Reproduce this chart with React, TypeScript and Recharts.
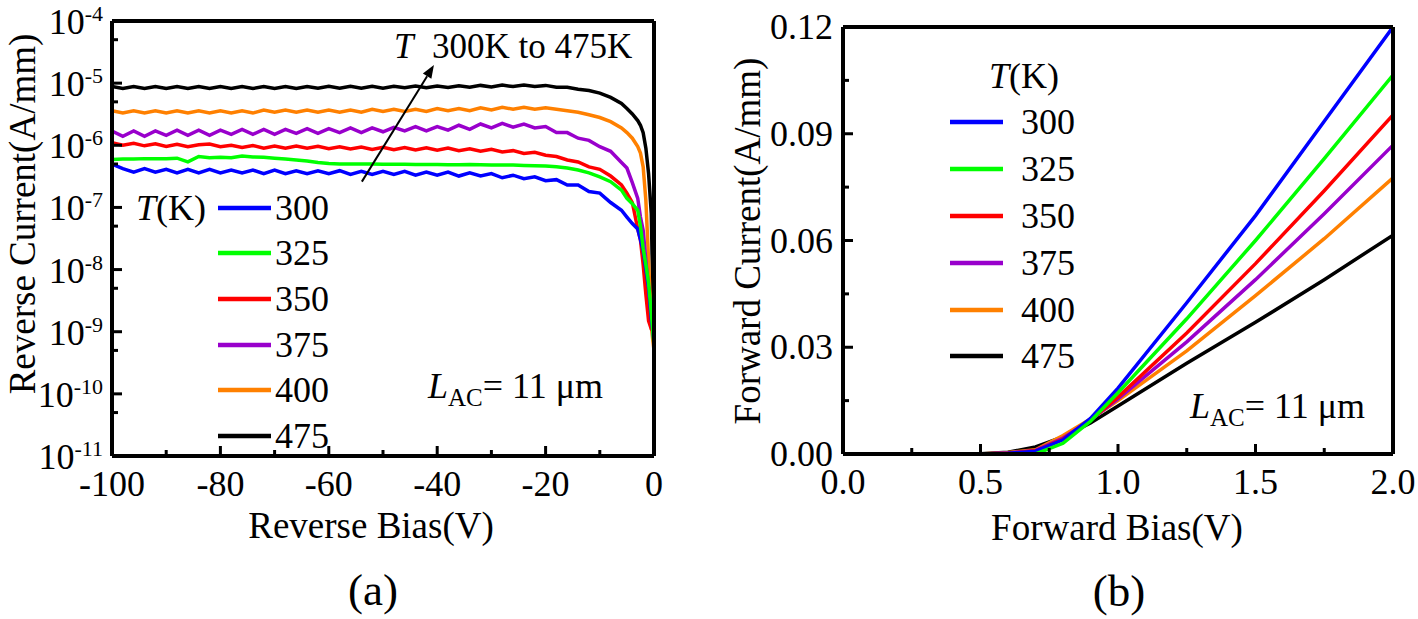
import React from 'react';
import { LineChart, Line, XAxis, YAxis, ReferenceLine, Legend } from 'recharts';

const FONT = '"Liberation Serif", "Times New Roman", serif';

// temperatures (K) and their colours
const temps = ['300', '325', '350', '375', '400', '475'];
const colors: Record<string, string> = {
  '300': '#0000ff',
  '325': '#00ff00',
  '350': '#ff0000',
  '375': '#9900cc',
  '400': '#ff8000',
  '475': '#000000',
};
// drawing order (last one on top)
const drawOrder = ['475', '400', '375', '350', '300', '325'];

// ---- (a) reverse characteristics ----
const reverseBias = [
  -100, -98, -96, -94, -92, -90, -88, -86, -84, -82,
  -80, -78, -76, -74, -72, -70, -68, -66, -64, -62,
  -60, -58, -56, -54, -52, -50, -48, -46, -44, -42,
  -40, -38, -36, -34, -32, -30, -28, -26, -24, -22,
  -20,
  -18, -16, -14, -12, -10, -8, -6,
  -5, -4, -3, -2.5, -2, -1.5, -1, -0.5, 0,
];

const rev300 = [
  5.0e-7, 4.2e-7, 3.7e-7, 4.2e-7, 3.7e-7, 4.1e-7, 3.6e-7, 4.1e-7, 3.6e-7, 4.1e-7,
  3.6e-7, 4.0e-7, 3.6e-7, 4.0e-7, 3.5e-7, 4.0e-7, 3.5e-7, 3.9e-7, 3.5e-7, 3.9e-7,
  3.5e-7, 3.9e-7, 3.4e-7, 3.8e-7, 3.4e-7, 3.8e-7, 3.4e-7, 3.8e-7, 3.3e-7, 3.7e-7,
  3.3e-7, 3.7e-7, 3.2e-7, 3.6e-7, 3.2e-7, 3.5e-7, 3.0e-7, 3.3e-7, 2.9e-7, 3.1e-7,
  2.7e-7,
  2.8e-7, 2.3e-7, 2.3e-7, 1.8e-7, 1.7e-7, 1.2e-7, 9e-8,
  7e-8, 5.5e-8, 4.5e-8, 3e-8, 2e-8, 1e-8, 5e-9, 1.6e-9, 7e-10,
];
const rev325 = [
  5.9e-7, 6.0e-7, 6.0e-7, 6.1e-7, 6.1e-7, 6.1e-7, 6.2e-7, 5.4e-7, 6.6e-7, 6.3e-7,
  6.4e-7, 6.3e-7, 6.7e-7, 6.5e-7, 6.4e-7, 6.2e-7, 6.0e-7, 5.8e-7, 5.6e-7, 5.3e-7,
  5.1e-7, 5.0e-7, 5.0e-7, 5.0e-7, 5.0e-7, 4.95e-7, 4.95e-7, 4.95e-7, 4.9e-7, 4.9e-7,
  4.9e-7, 4.85e-7, 4.85e-7, 4.9e-7, 4.85e-7, 4.8e-7, 4.8e-7, 4.8e-7, 4.75e-7, 4.7e-7,
  4.65e-7,
  4.5e-7, 4.3e-7, 4.0e-7, 3.6e-7, 3.1e-7, 2.6e-7, 1.9e-7,
  1.4e-7, 1.15e-7, 9e-8, 5e-8, 2.2e-8, 1.2e-8, 6e-9, 2e-9, 6e-10,
];
const rev350 = [
  1.1e-6, 1.0e-6, 1.08e-6, 9.8e-7, 1.06e-6, 9.6e-7, 1.04e-6, 9.5e-7, 1.02e-6, 1.05e-6,
  9.5e-7, 1.0e-6, 9.2e-7, 9.9e-7, 9.0e-7, 9.7e-7, 9.0e-7, 9.7e-7, 9.0e-7, 9.6e-7,
  8.8e-7, 9.5e-7, 8.7e-7, 9.4e-7, 8.6e-7, 9.3e-7, 8.5e-7, 9.2e-7, 8.4e-7, 9.1e-7,
  8.3e-7, 9.0e-7, 8.2e-7, 8.8e-7, 8.0e-7, 8.6e-7, 7.8e-7, 8.2e-7, 7.4e-7, 7.7e-7,
  6.9e-7,
  6.6e-7, 5.8e-7, 5.4e-7, 4.5e-7, 4.1e-7, 3.2e-7, 2.3e-7,
  1.7e-7, 1.2e-7, 4.5e-8, 3e-8, 1.2e-8, 4e-9, 1.5e-9, 1.1e-9, 1e-9,
];
const rev375 = [
  1.7e-6, 1.4e-6, 1.7e-6, 1.4e-6, 1.7e-6, 1.45e-6, 1.75e-6, 1.45e-6, 1.75e-6, 1.45e-6,
  1.75e-6, 1.5e-6, 1.8e-6, 1.5e-6, 1.8e-6, 1.5e-6, 1.8e-6, 1.55e-6, 1.85e-6, 1.55e-6,
  1.85e-6, 1.6e-6, 1.9e-6, 1.6e-6, 1.9e-6, 1.65e-6, 1.95e-6, 1.7e-6, 2.0e-6, 1.7e-6,
  2.0e-6, 1.75e-6, 2.1e-6, 1.8e-6, 2.2e-6, 1.9e-6, 2.25e-6, 1.95e-6, 2.2e-6, 1.9e-6,
  2.0e-6,
  1.6e-6, 1.6e-6, 1.3e-6, 1.2e-6, 9.5e-7, 8e-7, 5.3e-7,
  4.3e-7, 2.5e-7, 1.4e-7, 7e-8, 4.3e-8, 1.4e-8, 5e-9, 1.5e-9, 8e-10,
];
const rev400 = [
  3.6e-6, 3.3e-6, 3.6e-6, 3.3e-6, 3.6e-6, 3.3e-6, 3.6e-6, 3.3e-6, 3.6e-6, 3.3e-6,
  3.6e-6, 3.3e-6, 3.6e-6, 3.3e-6, 3.7e-6, 3.4e-6, 3.7e-6, 3.4e-6, 3.7e-6, 3.4e-6,
  3.7e-6, 3.4e-6, 3.7e-6, 3.4e-6, 3.8e-6, 3.5e-6, 3.8e-6, 3.5e-6, 3.8e-6, 3.5e-6,
  3.9e-6, 3.6e-6, 3.9e-6, 3.6e-6, 4.0e-6, 3.7e-6, 4.1e-6, 3.8e-6, 4.1e-6, 3.8e-6,
  4.0e-6,
  3.8e-6, 3.6e-6, 3.4e-6, 3.1e-6, 2.8e-6, 2.4e-6, 1.9e-6,
  1.6e-6, 1.3e-6, 9.5e-7, 7.5e-7, 4.5e-7, 1.3e-7, 1.4e-8, 1.2e-9, 5e-10,
];
const rev475 = [
  8.8e-6, 8.2e-6, 8.8e-6, 8.2e-6, 8.8e-6, 8.2e-6, 8.8e-6, 8.2e-6, 8.8e-6, 8.2e-6,
  8.8e-6, 8.2e-6, 8.8e-6, 8.2e-6, 8.8e-6, 8.2e-6, 8.8e-6, 8.2e-6, 8.8e-6, 8.3e-6,
  8.9e-6, 8.3e-6, 8.9e-6, 8.3e-6, 8.9e-6, 8.3e-6, 8.9e-6, 8.4e-6, 9.0e-6, 8.4e-6,
  9.0e-6, 8.5e-6, 9.1e-6, 8.6e-6, 9.2e-6, 8.7e-6, 9.3e-6, 8.8e-6, 9.3e-6, 8.8e-6,
  9.2e-6,
  8.6e-6, 8.6e-6, 8.0e-6, 7.6e-6, 6.9e-6, 5.9e-6, 4.7e-6,
  3.9e-6, 3.2e-6, 2.5e-6, 2.1e-6, 1.6e-6, 9e-7, 3.5e-7, 8e-8, 4e-10,
];

const revMajorX = [-100, -80, -60, -40, -20, 0];
const revMinorX = [-90, -70, -50, -30, -10];
const logMajorY = [1e-11, 1e-10, 1e-9, 1e-8, 1e-7, 1e-6, 1e-5, 1e-4];
const logMinorY = [5e-11, 5e-10, 5e-9, 5e-8, 5e-7, 5e-6, 5e-5];

// arrow "T 300K to 475K" in data units
const arrowFrom = { x: -53.9, y: 2.6e-7 };
const arrowTo = { x: -40.6, y: 1.95e-5 };

// ---- (b) forward characteristics ----
const forwardBias = [0, 0.5, 0.6, 0.7, 0.8, 0.9, 1.0, 1.25, 1.5, 1.75, 2.0];
const fwd300 = [0, 0, 0.0002, 0.0008, 0.004, 0.01, 0.0185, 0.0425, 0.067, 0.0935, 0.12];
const fwd325 = [0, 0, 0, 0, 0.003, 0.0092, 0.0172, 0.038, 0.06, 0.083, 0.1065];
const fwd350 = [0, 0, 0.0002, 0.0009, 0.0042, 0.0095, 0.016, 0.034, 0.0535, 0.074, 0.0953];
const fwd375 = [0, 0, 0.0003, 0.001, 0.0045, 0.0095, 0.0155, 0.0315, 0.049, 0.0675, 0.0868];
const fwd400 = [0, 0, 0.0004, 0.0012, 0.0052, 0.0098, 0.015, 0.029, 0.0445, 0.0605, 0.0776];
const fwd475 = [0, 0.0001, 0.0005, 0.002, 0.0048, 0.0087, 0.0135, 0.0255, 0.037, 0.049, 0.0615];

const fwdMajorX = [0, 0.5, 1.0, 1.5, 2.0];
const fwdMinorX = [0.25, 0.75, 1.25, 1.75];
const fwdMajorY = [0, 0.03, 0.06, 0.09, 0.12];
const fwdMinorY = [0.015, 0.045, 0.075, 0.105];

const revSeries: Record<string, number[]> = {
  '300': rev300, '325': rev325, '350': rev350, '375': rev375, '400': rev400, '475': rev475,
};
const fwdSeries: Record<string, number[]> = {
  '300': fwd300, '325': fwd325, '350': fwd350, '375': fwd375, '400': fwd400, '475': fwd475,
};

const buildRows = (xs: number[], series: Record<string, number[]>) =>
  xs.map((v, i) => {
    const row: Record<string, number> = { v };
    temps.forEach((t) => {
      row[t] = series[t][i];
    });
    return row;
  });

const reverseData = buildRows(reverseBias, revSeries);
const forwardData = buildRows(forwardBias, fwdSeries);

const txt = { fontFamily: FONT, fill: '#000' };

// axis sizes: plot box is margin + axis size
const Y_W = 60;
const X_H = 40;
const TICK_FS = 36;
const TITLE_FS = 37;
const LINE_W = 3.5;

// ticks drawn inward, labels outside
const makeXTick = (majors: number[], fmt: (v: number) => string) => (props: any) => {
  const { x, y, payload } = props;
  const major = majors.includes(payload.value);
  return (
    <g>
      <line x1={x} x2={x} y1={y} y2={y - (major ? 10 : 6)} stroke="#000" strokeWidth={3} />
      {major && (
        <text x={x} y={y + 40} textAnchor="middle" fontSize={TICK_FS} {...txt}>
          {fmt(payload.value)}
        </text>
      )}
    </g>
  );
};

const makeYTick = (majors: number[], fmt: (v: number) => string) => (props: any) => {
  const { x, y, payload } = props;
  const major = majors.includes(payload.value);
  return (
    <g>
      <line x1={x} x2={x + (major ? 10 : 6)} y1={y} y2={y} stroke="#000" strokeWidth={3} />
      {major && (
        <text x={x - 10} y={y + 12} textAnchor="end" fontSize={TICK_FS} {...txt}>
          {fmt(payload.value)}
        </text>
      )}
    </g>
  );
};

const LogYTick = (props: any) => {
  const { x, y, payload } = props;
  const exp = Math.round(Math.log10(payload.value));
  const major = logMajorY.includes(payload.value);
  return (
    <g>
      <line x1={x} x2={x + (major ? 10 : 6)} y1={y} y2={y} stroke="#000" strokeWidth={3} />
      {major && (
        <text x={x - 9} y={y + 13} textAnchor="end" fontSize={TICK_FS} {...txt}>
          10<tspan dy={-13} fontSize={22}>{exp}</tspan>
        </text>
      )}
    </g>
  );
};

const ArrowShape = (props: any) => {
  const { x1, y1, x2, y2 } = props;
  const a = Math.atan2(y2 - y1, x2 - x1);
  const len = 13;
  const w = 5;
  const bx = x2 - len * Math.cos(a);
  const by = y2 - len * Math.sin(a);
  const px = -Math.sin(a) * w;
  const py = Math.cos(a) * w;
  return (
    <g>
      <line x1={x1} y1={y1} x2={bx} y2={by} stroke="#000" strokeWidth={2} />
      <polygon points={`${x2},${y2} ${bx + px},${by + py} ${bx - px},${by - py}`} fill="#000" />
    </g>
  );
};

const sortPayload = (payload: any[]) =>
  [...(payload || [])].sort((a, b) => temps.indexOf(a.value) - temps.indexOf(b.value));

const LegendA = ({ payload }: any) => (
  <div style={{ fontFamily: FONT, fontSize: TICK_FS, color: '#000', lineHeight: 'normal' }}>
    {sortPayload(payload).map((p: any, i: number) => (
      <div key={p.value} style={{ display: 'flex', alignItems: 'center', height: 45.6 }}>
        <div style={{ width: 82 }}>
          {i === 0 ? (
            <span>
              <i>T</i>(K)
            </span>
          ) : null}
        </div>
        <svg width={53} height={8} style={{ display: 'block' }}>
          <line x1={0} x2={53} y1={4} y2={4} stroke={p.color} strokeWidth={4.5} />
        </svg>
        <span style={{ marginLeft: 4 }}>{p.value}</span>
      </div>
    ))}
  </div>
);

const LegendB = ({ payload }: any) => (
  <div style={{ fontFamily: FONT, fontSize: TICK_FS, color: '#000', lineHeight: 'normal' }}>
    <div style={{ height: 47, display: 'flex', alignItems: 'center', paddingLeft: 39 }}>
      <span>
        <i>T</i>(K)
      </span>
    </div>
    {sortPayload(payload).map((p: any) => (
      <div key={p.value} style={{ display: 'flex', alignItems: 'center', height: 46.8 }}>
        <svg width={53} height={8} style={{ display: 'block' }}>
          <line x1={0} x2={53} y1={4} y2={4} stroke={p.color} strokeWidth={4.5} />
        </svg>
        <span style={{ marginLeft: 18 }}>{p.value}</span>
      </div>
    ))}
  </div>
);

const frame = { stroke: '#000', strokeWidth: 4 };

const App = () => (
  <div style={{ position: 'absolute', left: 0, top: 0, width: 1418, height: 619, background: '#fff' }}>
    <div style={{ position: 'absolute', left: 0, top: 0 }}>
      <LineChart
        width={700}
        height={619}
        data={reverseData}
        margin={{ top: 21, right: 46, bottom: 163 - X_H, left: 112 - Y_W }}
      >
        <XAxis
          dataKey="v"
          type="number"
          domain={[-100, 0]}
          allowDataOverflow
          ticks={[...revMajorX, ...revMinorX].sort((a, b) => a - b)}
          interval={0}
          height={X_H}
          tickSize={0}
          tickMargin={0}
          axisLine={frame}
          tick={makeXTick(revMajorX, (v) => String(v))}
        />
        <YAxis
          type="number"
          scale="log"
          domain={[1e-11, 1e-4]}
          allowDataOverflow
          ticks={[...logMajorY, ...logMinorY].sort((a, b) => a - b)}
          interval={0}
          width={Y_W}
          tickSize={0}
          tickMargin={0}
          axisLine={frame}
          tick={LogYTick}
        />
        {drawOrder.map((t) => (
          <Line
            key={t}
            dataKey={t}
            name={t}
            type="linear"
            stroke={colors[t]}
            strokeWidth={LINE_W}
            dot={false}
            isAnimationActive={false}
          />
        ))}
        <ReferenceLine y={1e-4} ifOverflow="visible" {...frame} />
        <ReferenceLine x={0} ifOverflow="visible" {...frame} />
        <ReferenceLine segment={[arrowFrom, arrowTo]} ifOverflow="visible" shape={ArrowShape} />
        <Legend
          layout="vertical"
          align="center"
          verticalAlign="middle"
          content={LegendA}
          wrapperStyle={{ left: 136, top: 185 }}
        />
      </LineChart>
    </div>

    <div style={{ position: 'absolute', left: 700, top: 0 }}>
      <LineChart
        width={718}
        height={619}
        data={forwardData}
        margin={{ top: 27, right: 25, bottom: 165 - X_H, left: 143 - Y_W }}
      >
        <XAxis
          dataKey="v"
          type="number"
          domain={[0, 2]}
          allowDataOverflow
          ticks={[...fwdMajorX, ...fwdMinorX].sort((a, b) => a - b)}
          interval={0}
          height={X_H}
          tickSize={0}
          tickMargin={0}
          axisLine={frame}
          tick={makeXTick(fwdMajorX, (v) => v.toFixed(1))}
        />
        <YAxis
          type="number"
          domain={[0, 0.12]}
          allowDataOverflow
          ticks={[...fwdMajorY, ...fwdMinorY].sort((a, b) => a - b)}
          interval={0}
          width={Y_W}
          tickSize={0}
          tickMargin={0}
          axisLine={frame}
          tick={makeYTick(fwdMajorY, (v) => v.toFixed(2))}
        />
        {drawOrder.map((t) => (
          <Line
            key={t}
            dataKey={t}
            name={t}
            type="linear"
            stroke={colors[t]}
            strokeWidth={LINE_W}
            dot={false}
            isAnimationActive={false}
          />
        ))}
        <ReferenceLine y={0.12} ifOverflow="visible" {...frame} />
        <ReferenceLine x={2} ifOverflow="visible" {...frame} />
        <Legend
          layout="vertical"
          align="center"
          verticalAlign="middle"
          content={LegendB}
          wrapperStyle={{ left: 250, top: 52 }}
        />
      </LineChart>
    </div>

    <svg width={1418} height={619} style={{ position: 'absolute', left: 0, top: 0, pointerEvents: 'none' }}>
      {/* panel (a) texts */}
      <text transform="translate(35,214) rotate(-90)" textAnchor="middle" fontSize={TITLE_FS} {...txt}>
        Reverse Current(A/mm)
      </text>
      <text x={371} y={538} textAnchor="middle" fontSize={TITLE_FS} {...txt}>
        Reverse Bias(V)
      </text>
      <text x={373} y={605} textAnchor="middle" fontSize={45} {...txt}>
        (a)
      </text>
      <text x={394} y={58} fontSize={35} fontStyle="italic" {...txt}>
        T
      </text>
      <text x={432} y={58} fontSize={35} {...txt}>
        300K to 475K
      </text>
      <text x={428} y={398} fontSize={TICK_FS} {...txt}>
        <tspan fontStyle="italic">L</tspan>
        <tspan fontSize={25} dy={8}>AC</tspan>
        <tspan dy={-8}>= 11 μm</tspan>
      </text>

      {/* panel (b) texts */}
      <text transform="translate(760,241) rotate(-90)" textAnchor="middle" fontSize={TITLE_FS} {...txt}>
        Forward Current(A/mm)
      </text>
      <text x={1117} y={540} textAnchor="middle" fontSize={TITLE_FS} {...txt}>
        Forward Bias(V)
      </text>
      <text x={1119} y={606} textAnchor="middle" fontSize={45} {...txt}>
        (b)
      </text>
      <text x={1190} y={418} fontSize={TICK_FS} {...txt}>
        <tspan fontStyle="italic">L</tspan>
        <tspan fontSize={25} dy={8}>AC</tspan>
        <tspan dy={-8}>= 11 μm</tspan>
      </text>
    </svg>
  </div>
);

export default App;
